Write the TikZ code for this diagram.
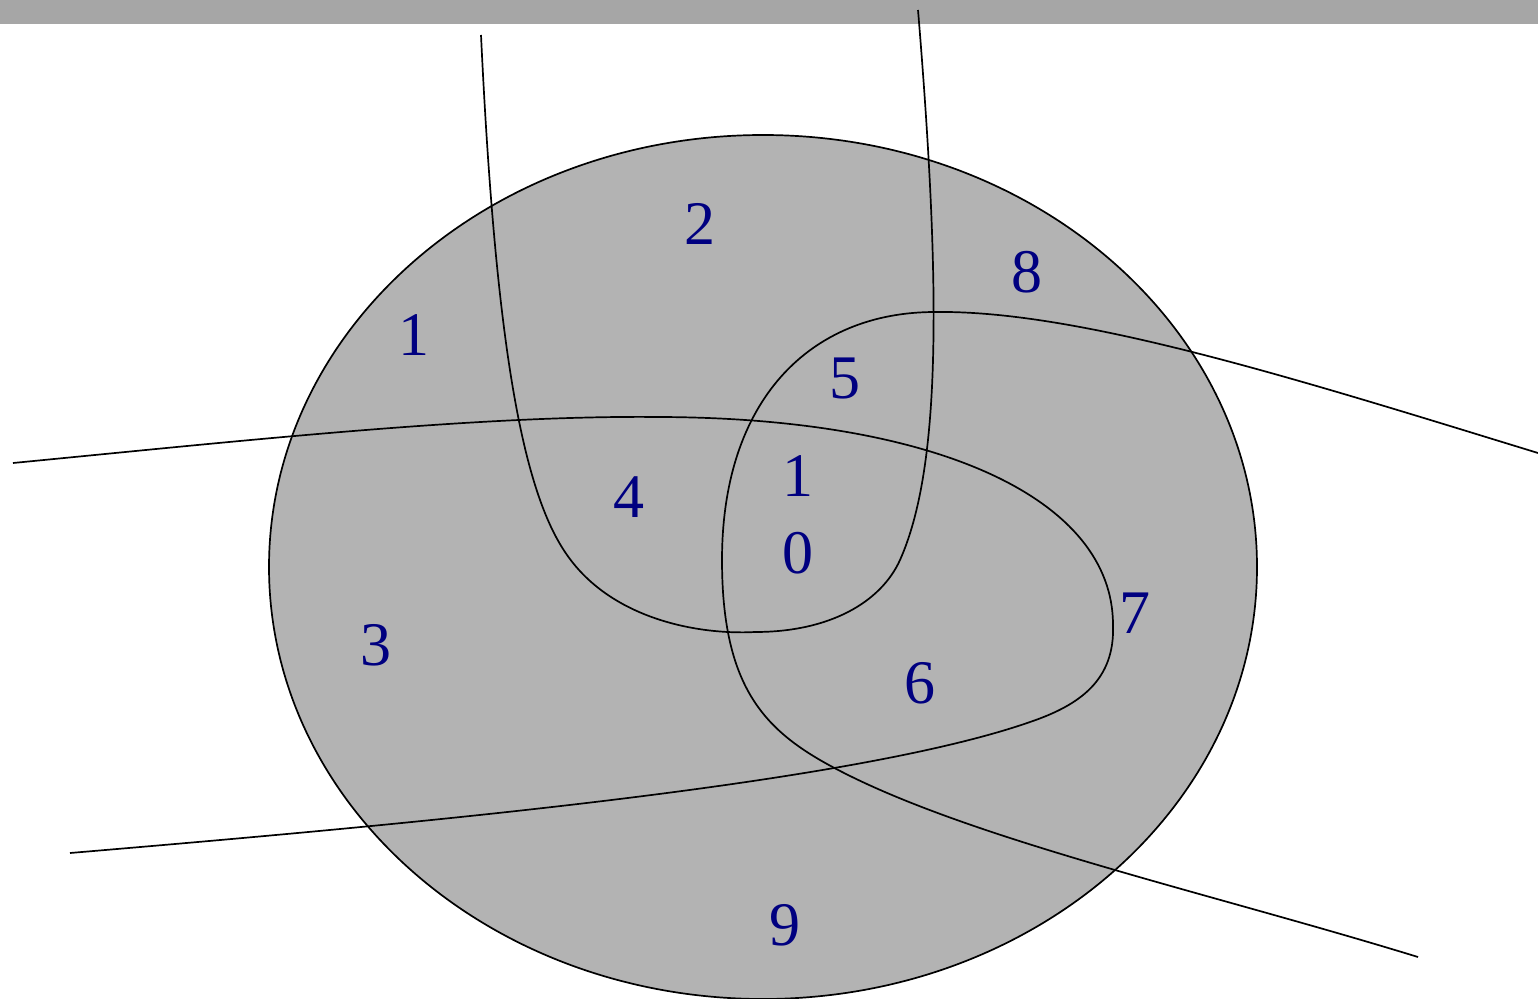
\documentclass[tikz,border=0pt]{standalone}
\usepackage{fontspec}
\setmainfont{Liberation Serif}
\definecolor{regionfill}{HTML}{B3B3B3}
\definecolor{barfill}{HTML}{A6A6A6}
\definecolor{labelblue}{HTML}{000080}
\begin{document}
\begin{tikzpicture}[x=1pt,y=-1pt,
  curve/.style={draw=black,line width=1.7pt},
  lab/.style={text=labelblue,font=\fontsize{62}{62}\selectfont,inner sep=0pt,anchor=center}]
\useasboundingbox (0,0) rectangle (1538,998);
\fill[white] (0,0) rectangle (1538,998);
\fill[barfill] (0,0) rectangle (1538,24);
\draw[curve,fill=regionfill] (763,567) ellipse [x radius=494, y radius=432];
% vertical loop
\draw[curve] (481,35) .. controls (495,330) and (520,485) .. (565,552)
  .. controls (610,620) and (700,635) .. (755,632)
  .. controls (830,632) and (881,602) .. (900,560)
  .. controls (940,470) and (942,300) .. (918,10);
% horizontal loop
\draw[curve] (13,463) .. controls (250,440) and (480,415) .. (660,417)
  .. controls (940,418) and (1113,500) .. (1113,625)
  .. controls (1115,680) and (1080,705) .. (1030,722)
  .. controls (850,785) and (400,825) .. (70,853);
% diagonal loop
\draw[curve] (1538,453) .. controls (1300,380) and (1080,310) .. (935,312)
  .. controls (810,312) and (722,400) .. (722,560)
  .. controls (722,680) and (760,725) .. (820,760)
  .. controls (950,835) and (1200,890) .. (1418,957);
\node[lab] (r1) at (414,335) {1};
\node[lab] (r2) at (700,224) {2};
\node[lab] (r8) at (1027,272) {8};
\node[lab] (r5) at (845,378) {5};
\node[lab] (r4) at (629,497) {4};
\node[lab] (r10a) at (798,476) {1};
\node[lab] (r10b) at (798,553) {0};
\node[lab] (r7) at (1135,613) {7};
\node[lab] (r3) at (376,645) {3};
\node[lab] (r6) at (920,683) {6};
\node[lab] (r9) at (785,925) {9};
\end{tikzpicture}
\end{document}
